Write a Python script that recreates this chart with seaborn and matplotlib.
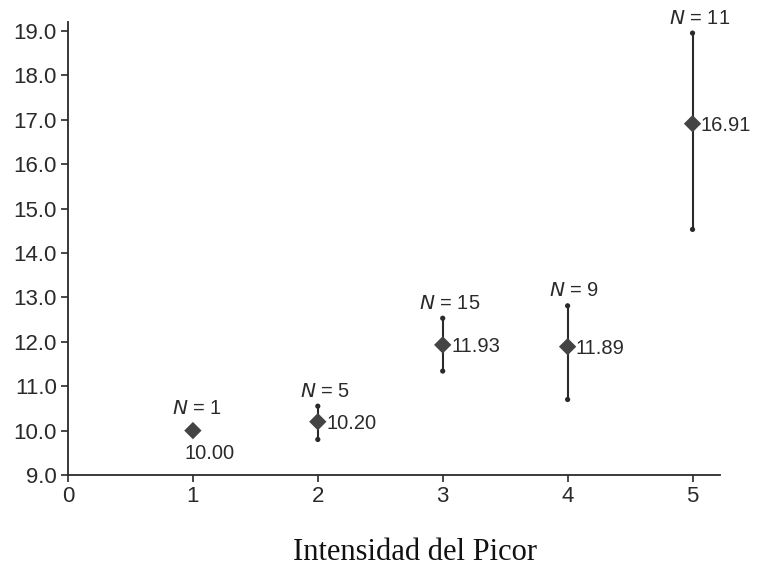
import matplotlib
matplotlib.use("Agg")
import matplotlib.pyplot as plt
import seaborn as sns
import pandas as pd

# Data
intensity = [1, 2, 3, 4, 5]
means = [10.00, 10.20, 11.93, 11.89, 16.91]
mean_labels = ["10.00", "10.20", "11.93", "11.89", "16.91"]
upper = [None, 10.55, 12.53, 12.81, 18.95]
lower = [None, 9.80, 11.34, 10.70, 14.53]
n_counts = [1, 5, 15, 9, 11]
y_ticks = [9.0, 10.0, 11.0, 12.0, 13.0, 14.0, 15.0, 16.0, 17.0, 18.0, 19.0]
x_ticks = [0, 1, 2, 3, 4, 5]
x_label = "Intensidad del Picor"

sns.set_theme(style="ticks")
plt.rcParams["font.family"] = ["Liberation Sans", "DejaVu Sans"]

fig = plt.figure(figsize=(7.57, 5.69), dpi=100)
ax = fig.add_axes([68 / 757, 1 - 475 / 569, (720 - 68) / 757, (475 - 22) / 569])

df = pd.DataFrame({"x": intensity, "mean": means})
ebars = pd.DataFrame({"x": intensity, "lo": lower, "hi": upper}).dropna()

dark = "#2a2a2a"
ax.vlines(ebars["x"], ebars["lo"], ebars["hi"], color=dark, lw=1.5, zorder=2)
ends = pd.DataFrame({"x": list(ebars["x"]) * 2,
                     "y": list(ebars["lo"]) + list(ebars["hi"])})
sns.scatterplot(data=ends, x="x", y="y", ax=ax, color=dark, s=14,
                marker="o", edgecolor="none", zorder=3, legend=False)
sns.scatterplot(data=df, x="x", y="mean", ax=ax, color="#444444", s=78,
                marker="D", edgecolor="none", zorder=4, legend=False)

fs = 14.5
for i, (xv, m, lab, n) in enumerate(zip(intensity, means, mean_labels, n_counts)):
    if upper[i] is None:
        ax.annotate(lab, (xv, m), xytext=(-6, -10), textcoords="offset points",
                    ha="left", va="top", fontsize=fs, color=dark)
        ax.annotate(f"$N$ = {n}", (xv, m), xytext=(3, 9), textcoords="offset points",
                    ha="center", va="bottom", fontsize=fs, color=dark)
    else:
        ax.annotate(lab, (xv, m), xytext=(6, -1), textcoords="offset points",
                    ha="left", va="center", fontsize=fs, color=dark)
        ax.annotate(f"$N$ = {n}", (xv, upper[i]), xytext=(5, 4), textcoords="offset points",
                    ha="center", va="bottom", fontsize=fs, color=dark)

ax.set_xlim(0, 5.22)
ax.set_ylim(9.0, 19.2)
ax.set_xticks(x_ticks)
ax.set_xticklabels([str(t) for t in x_ticks])
ax.set_yticks(y_ticks)
ax.set_yticklabels([f"{t:.1f}" for t in y_ticks])
ax.tick_params(axis="both", labelsize=16, colors=dark, length=5, width=1.2, pad=3)
ax.set_xlabel("")
ax.set_ylabel("")
for s in ["top", "right"]:
    ax.spines[s].set_visible(False)
for s in ["left", "bottom"]:
    ax.spines[s].set_color(dark)
    ax.spines[s].set_linewidth(1.3)

fig.text(415 / 757, 1 - 560 / 569, x_label, ha="center", va="baseline",
         fontsize=22, family=["Liberation Serif", "DejaVu Serif"], color="#111111")

fig.savefig("out.png", dpi=100)
